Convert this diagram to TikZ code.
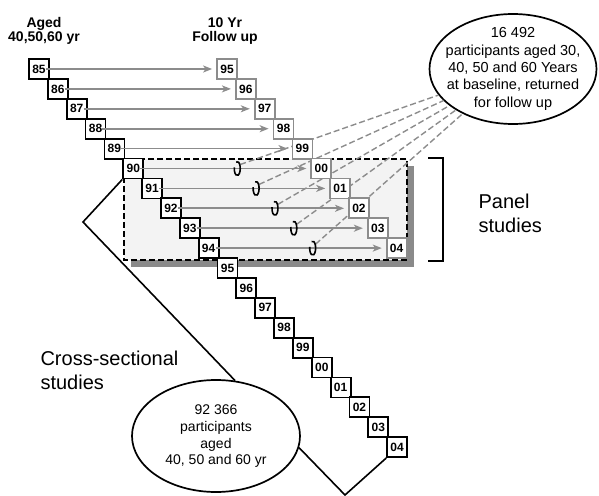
\documentclass[tikz,border=0pt]{standalone}
\usepackage{fontspec}
\setmainfont{Liberation Sans}
\usetikzlibrary{arrows.meta,shapes.geometric,calc}
\definecolor{lgrey}{RGB}{140,140,140}
\definecolor{panelfill}{RGB}{243,243,243}
\definecolor{shadowgrey}{RGB}{138,138,138}
\begin{document}
\begin{tikzpicture}[x=1pt,y=-1pt,
  bbox/.style={draw=black, line width=1.8pt, fill=white, minimum width=20pt, minimum height=20pt, inner sep=0pt, font=\fontsize{12}{12}\selectfont\bfseries},
  gbox/.style={bbox, draw=lgrey},
  flow/.style={draw=lgrey, line width=1.7pt, -{Stealth[length=9pt,width=7pt,inset=2.5pt]}, shorten >=4pt},
  link/.style={draw=lgrey, line width=1.4pt, dash pattern=on 6pt off 3pt},
  ringline/.style={draw=black, line width=1.6pt},
  ell/.style={draw=black, ellipse, line width=1.7pt, fill=white, inner sep=0pt},
  vline/.style={draw=black, line width=1.6pt},
  head/.style={align=center, font=\fontsize{14}{13.5}\selectfont\bfseries},
  big/.style={align=left, anchor=west, font=\fontsize{20}{24}\selectfont},
  etext/.style={align=center}
]
\useasboundingbox (0,0) rectangle (599,495);

% headings
\node[head] (h1) at (44,31) {Aged\\40,50,60 yr};
\node[head] (h2) at (225,31) {10 Yr\\Follow up};

% shadow and panel
\fill[shadowgrey] (131,166) rectangle (414,267);
\draw[black, line width=1.7pt, dash pattern=on 6pt off 3pt, fill=panelfill] (124,159) rectangle (407,260);

% bracket
\draw[line width=1.8pt] (428,158) -- (443,158) -- (443,261) -- (428,261);

% ellipses
\node[ell, minimum width=167pt, minimum height=110pt] (e1) at (513,69) {};
\node[etext, font=\fontsize{14.5}{17.3}\selectfont] (t1) at (513,69) {16 492\\participants aged 30,\\40, 50 and 60 Years\\at baseline, returned\\for follow up};
\node[ell, minimum width=168pt, minimum height=112pt] (e2) at (216,436) {};
\node[etext, font=\fontsize{14}{16.7}\selectfont] (t2) at (216,436.5) {92 366\\participants\\aged\\40, 50 and 60 yr};

% dashed links from rings to ellipse
\foreach \i in {5,...,9} {
  \coordinate (r\i) at ({39+18.85*\i+104},{69+19.9*\i});
  \coordinate (d\i) at ({39+18.85*\i+107},{65+19.9*\i});
  \draw[link] (d\i) -- (e1);
}

% boxes
\foreach \i/\lab in {0/85,1/86,2/87,3/88,4/89,5/90,6/91,7/92,8/93,9/94,10/95,11/96,12/97,13/98,14/99,15/00,16/01,17/02,18/03,19/04}
  \node[bbox] (b\i) at ({39+18.85*\i},{69+19.9*\i}) {\lab};
\foreach \i/\lab in {0/95,1/96,2/97,3/98,4/99,5/00,6/01,7/02,8/03,9/04}
  \node[gbox] (g\i) at ({227+18.85*\i},{69+19.9*\i}) {\lab};

% arrows
\foreach \i in {0,...,9}
  \draw[flow] ([xshift=-4pt]b\i.east) -- (g\i.west);

% rings
\foreach \i in {5,...,9}
  \draw[ringline] (r\i) ++(250:3 and 7) arc[start angle=250, end angle=550, x radius=3, y radius=7];

% V lines
\coordinate (vl) at (83,222);
\coordinate (vb) at (345,495);
\draw[vline] (b5.south west) -- (vl) -- (e2.71);
\draw[vline] (e2.-8) -- (vb) -- (b19.south west);

% labels
\node[big] (p) at (475,213.5) {Panel\\studies};
\node[big] (c) at (37,370.5) {Cross-sectional\\studies};
\end{tikzpicture}
\end{document}
